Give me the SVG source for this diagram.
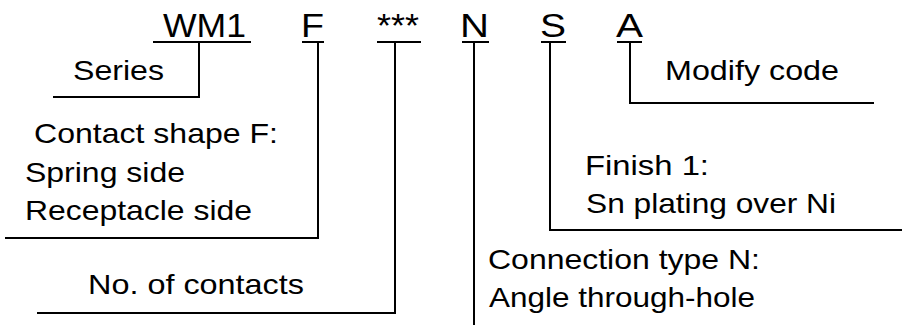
<svg xmlns="http://www.w3.org/2000/svg" width="902" height="325" viewBox="0 0 902 325">
<style>
text{font-family:"Liberation Sans",Arial,Helvetica,sans-serif;fill:#000}
.code{font-size:33px}
.lbl{font-size:28.5px}
.ln{stroke:#000;stroke-width:2;fill:none}
</style>
<rect width="902" height="325" fill="#fff"/>
<g id="codes">
<g id="code-wm1"><text class="code" x="163" y="37" textLength="83" lengthAdjust="spacingAndGlyphs">WM1</text></g>
<g id="code-f"><text class="code" x="301" y="37" textLength="23" lengthAdjust="spacingAndGlyphs">F</text></g>
<g id="code-stars"><text class="code" x="377" y="37" textLength="42" lengthAdjust="spacingAndGlyphs">***</text></g>
<g id="code-n"><text class="code" x="460" y="37" textLength="29" lengthAdjust="spacingAndGlyphs">N</text></g>
<g id="code-s"><text class="code" x="540" y="37" textLength="26" lengthAdjust="spacingAndGlyphs">S</text></g>
<g id="code-a"><text class="code" x="616" y="37" textLength="27" lengthAdjust="spacingAndGlyphs">A</text></g>
</g>
<g id="label-series"><text class="lbl" x="73" y="80" textLength="91" lengthAdjust="spacingAndGlyphs">Series</text></g>
<g id="label-modify"><text class="lbl" x="665" y="80" textLength="174" lengthAdjust="spacingAndGlyphs">Modify code</text></g>
<g id="label-contact">
<text class="lbl" x="34" y="143" textLength="244" lengthAdjust="spacingAndGlyphs">Contact shape F:</text>
<text class="lbl" x="25" y="182" textLength="160" lengthAdjust="spacingAndGlyphs">Spring side</text>
<text class="lbl" x="25" y="220" textLength="227" lengthAdjust="spacingAndGlyphs">Receptacle side</text>
</g>
<g id="label-contacts"><text class="lbl" x="88" y="294" textLength="216" lengthAdjust="spacingAndGlyphs">No. of contacts</text></g>
<g id="label-finish">
<text class="lbl" x="585" y="175" textLength="124" lengthAdjust="spacingAndGlyphs">Finish 1:</text>
<text class="lbl" x="586" y="213" textLength="250" lengthAdjust="spacingAndGlyphs">Sn plating over Ni</text>
</g>
<g id="label-connection">
<text class="lbl" x="488" y="269" textLength="272" lengthAdjust="spacingAndGlyphs">Connection type N:</text>
<text class="lbl" x="489" y="307" textLength="266" lengthAdjust="spacingAndGlyphs">Angle through-hole</text>
</g>
<g id="connectors" class="ln">
<path class="ln" d="M153 42H251M199 42V97H53"/>
<path class="ln" d="M302 42H324M318 42V238H5"/>
<path class="ln" d="M377 42H421M395 42V313H37"/>
<path class="ln" d="M462 42H489M474 42V325"/>
<path class="ln" d="M541 42H566M550 42V230H902"/>
<path class="ln" d="M617 42H642M630 42V103H874"/>
</g>
</svg>
